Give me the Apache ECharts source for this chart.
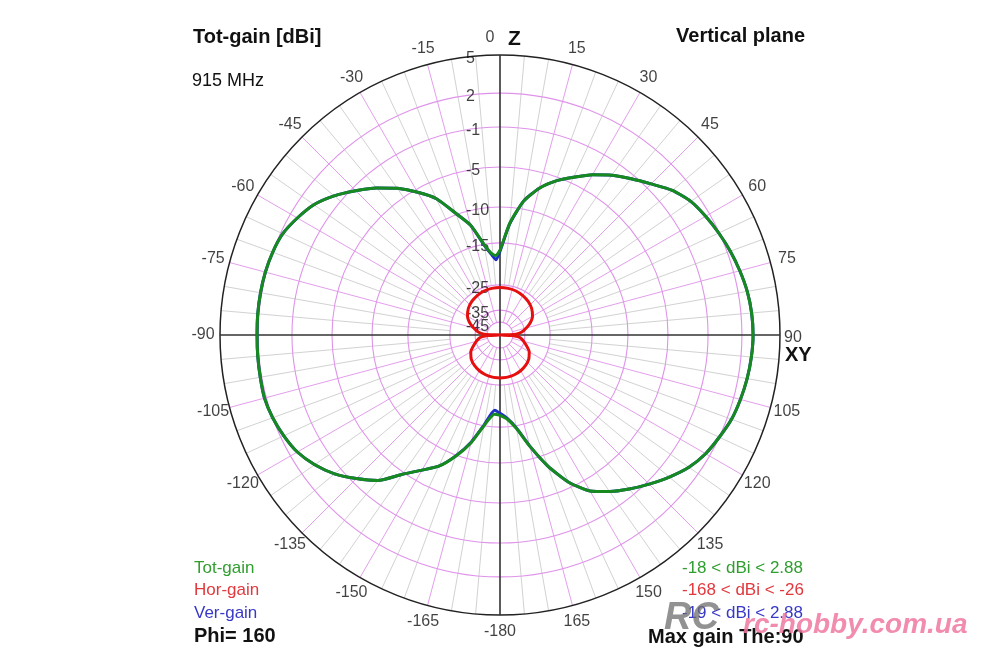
<!DOCTYPE html>
<html><head><meta charset="utf-8">
<script src="https://cdn.jsdelivr.net/npm/echarts@6/dist/echarts.min.js"></script>
<style>html,body{margin:0;padding:0;background:#fff}#c{width:1000px;height:667px}</style>
</head><body><div id="c"></div>
<script>
// ---- data (gain in dBi vs theta, degrees clockwise from Z) ----
const ringDb = [5, 2, -1, -5, -10, -15, -25, -35, -45];
const angleTicks = [0, 15, 30, 45, 60, 75, 90, 105, 120, 135, 150, 165, -180, -165, -150, -135, -120, -105, -90, -75, -60, -45, -30, -15];
const totTheta = [-180, -176, -170, -165, -160, -155, -150, -145, -140, -135, -130, -125, -120, -115, -110, -105, -100, -95, -90, -85, -80, -75, -70, -65, -60, -55, -50, -45, -40, -35, -30, -25, -20, -15, -10, -6, -3, 0, 5, 10, 15, 20, 25, 30, 35, 40, 45, 50, 55, 60, 65, 70, 75, 80, 85, 90, 95, 100, 105, 110, 115, 120, 125, 130, 135, 140, 145, 150, 155, 160, 165, 170, 175, 180];
const totGain = [-17.8, -18.0, -15.0, -12.3, -9.9, -7.9, -6.5, -4.8, -2.8, -1.5, -0.3, 0.6, 1.3, 1.7, 2.0, 2.15, 2.12, 2.1, 2.08, 2.1, 2.1, 2.08, 2.0, 1.8, 1.3, 0.7, -0.25, -1.4, -2.6, -3.9, -5.4, -7.2, -9.8, -12.0, -15.0, -17.4, -18.0, -16.7, -12.2, -9.0, -7.0, -5.5, -4.4, -3.3, -2.3, -1.4, -0.5, 0.5, 1.2, 1.6, 1.95, 2.25, 2.5, 2.72, 2.84, 2.88, 2.82, 2.71, 2.55, 2.35, 2.0, 1.6, 1.0, 0.15, -0.75, -1.7, -2.7, -3.8, -5.7, -8.6, -11.8, -14.6, -16.8, -17.8];
const verGain = [-18.3, -19.0, -15.2, -12.4, -9.95, -7.9, -6.5, -4.8, -2.8, -1.5, -0.3, 0.6, 1.3, 1.7, 2.0, 2.15, 2.12, 2.1, 2.08, 2.1, 2.1, 2.08, 2.0, 1.8, 1.3, 0.7, -0.25, -1.4, -2.6, -3.9, -5.4, -7.2, -9.8, -12.0, -15.2, -17.7, -19.0, -17.0, -12.3, -9.0, -7.0, -5.5, -4.4, -3.3, -2.3, -1.4, -0.5, 0.5, 1.2, 1.6, 1.95, 2.25, 2.5, 2.72, 2.84, 2.88, 2.82, 2.71, 2.55, 2.35, 2.0, 1.6, 1.0, 0.15, -0.75, -1.7, -2.7, -3.8, -5.7, -8.6, -11.8, -14.7, -17.0, -18.3];
const horTheta = [-180, -170, -160, -150, -140, -130, -120, -110, -100, -95, -92, -90, -88, -85, -80, -70, -60, -50, -40, -30, -20, -10, 0, 10, 20, 30, 40, 50, 60, 70, 80, 85, 88, 90, 92, 95, 100, 110, 120, 130, 140, 150, 160, 170, 180];
const horGain = [-27.8, -27.9, -28.1, -28.5, -29.1, -30.0, -31.5, -34.0, -37.5, -41, -46, -168, -45, -40, -36, -32.5, -30, -28.5, -27.5, -26.8, -26.3, -26.1, -26, -26.1, -26.3, -26.8, -27.5, -28.5, -30, -32.5, -36, -40, -45, -168, -46, -41, -37.5, -34.0, -31.5, -30.0, -29.1, -28.5, -28.1, -27.9, -27.8];

// ---- radial scale (log-like, 4nec2 style): dBi -> fraction of outer radius ----
function gainToRadius(db) {
  const bp = [[5, 1], [2, 0.864], [-1, 0.743], [-5, 0.6], [-10, 0.457], [-15, 0.329], [-25, 0.179], [-35, 0.089], [-45, 0.046], [-56, 0]];
  if (db >= bp[0][0]) return 1;
  for (let i = 1; i < bp.length; i++) {
    if (db >= bp[i][0]) {
      const [d0, r0] = bp[i - 1], [d1, r1] = bp[i];
      return r1 + (db - d1) * (r0 - r1) / (d0 - d1);
    }
  }
  return 0;
}
const ang = t => (t + 360) % 360;

const FONT = '"Liberation Sans", Arial, sans-serif';
const OUTER = 280, PR = 300;
const RMAX = PR / OUTER;

const spokeData = [];
for (let a = 0; a < 360; a += 5) if (a % 90 !== 0) spokeData.push([a % 15 === 0 ? gainToRadius(-45) : gainToRadius(-25), a]);

function ringRender(color, width) {
  return function (params, api) {
    const c = api.coord([0, 0]);
    const p = api.coord([api.value(0), 0]);
    const r = Math.hypot(p[0] - c[0], p[1] - c[1]);
    return { type: 'circle', shape: { cx: c[0], cy: c[1], r: r }, style: { fill: 'none', stroke: color, lineWidth: width } };
  };
}

const chart = echarts.init(document.getElementById('c'), null, { renderer: 'canvas' });
const option = {
  backgroundColor: '#ffffff',
  animation: false,
  polar: { center: [500, 335], radius: PR },
  radiusAxis: { type: 'value', min: 0, max: RMAX, show: false },
  angleAxis: { type: 'value', min: 0, max: 360, startAngle: 90, clockwise: true, show: false },
  series: [
    { // spokes
      type: 'custom', coordinateSystem: 'polar', silent: true, z: 1,
      data: spokeData,
      renderItem: function (params, api) {
        const a = api.value(1);
        const p0 = api.coord([api.value(0), a]);
        const p1 = api.coord([1, a]);
        const mag = Math.round(a) % 15 === 0;
        return { type: 'line', shape: { x1: p0[0], y1: p0[1], x2: p1[0], y2: p1[1] },
          style: { stroke: mag ? '#e39fec' : '#d2d2d2', lineWidth: 1 } };
      }
    },
    { // magenta rings
      type: 'custom', coordinateSystem: 'polar', silent: true, z: 2,
      data: ringDb.slice(1).map(d => [gainToRadius(d), 0]),
      renderItem: ringRender('#df93ea', 1.1)
    },
    { // outer ring
      type: 'custom', coordinateSystem: 'polar', silent: true, z: 3,
      data: [[gainToRadius(ringDb[0]), 0]],
      renderItem: ringRender('#222222', 1.5)
    },
    { // main axes Z and XY
      type: 'custom', coordinateSystem: 'polar', silent: true, z: 4,
      data: [[1, 0], [1, 90]],
      renderItem: function (params, api) {
        const a = api.value(1);
        const p0 = api.coord([1, a]);
        const p1 = api.coord([1, a + 180]);
        return { type: 'line', shape: { x1: p0[0], y1: p0[1], x2: p1[0], y2: p1[1] },
          style: { stroke: '#333333', lineWidth: 1.6 } };
      }
    },
    { // ring labels
      type: 'scatter', coordinateSystem: 'polar', silent: true, z: 5,
      symbolSize: 1, itemStyle: { color: 'rgba(0,0,0,0)' },
      data: ringDb.map(d => [gainToRadius(d), 0]),
      label: { show: true, position: 'inside', align: 'left', verticalAlign: 'middle', offset: [-34, 4],
        formatter: p => String(ringDb[p.dataIndex]), color: '#111', fontSize: 16, fontFamily: FONT }
    },
    { // angle labels
      type: 'scatter', coordinateSystem: 'polar', silent: true, z: 5,
      symbolSize: 1, itemStyle: { color: 'rgba(0,0,0,0)' },
      data: angleTicks.map(v => {
        const item = { value: [297 / OUTER, ang(v)] };
        if (v === 0) item.label = { offset: [-10, 0] };
        if (v === 90) item.label = { offset: [-4, 3] };
        return item;
      }),
      label: { show: true, position: 'inside', align: 'center', verticalAlign: 'middle',
        formatter: p => String(angleTicks[p.dataIndex]), color: '#111', fontSize: 16, fontFamily: FONT }
    },
    { name: 'Ver-gain', type: 'line', coordinateSystem: 'polar', silent: true, z: 6,
      symbol: 'none', smooth: 0.2, lineStyle: { color: '#1d2fc4', width: 3 },
      data: totTheta.map((t, i) => [gainToRadius(verGain[i]), ang(t)]) },
    { name: 'Tot-gain', type: 'line', coordinateSystem: 'polar', silent: true, z: 7,
      symbol: 'none', smooth: 0.2, lineStyle: { color: '#168a1e', width: 3 },
      data: totTheta.map((t, i) => [gainToRadius(totGain[i]), ang(t)]) },
    { name: 'Hor-gain', type: 'line', coordinateSystem: 'polar', silent: true, z: 7,
      symbol: 'none', smooth: 0.2, lineStyle: { color: '#e60f0f', width: 3 },
      data: horTheta.map((t, i) => [gainToRadius(horGain[i]), ang(t)]) }
  ],
  graphic: [
    { type: 'text', x: 193, y: 37, style: { text: 'Tot-gain [dBi]', font: 'bold 20px ' + FONT, fill: '#111', align: 'left', verticalAlign: 'middle' } },
    { type: 'text', x: 192, y: 81, style: { text: '915 MHz', font: '18px ' + FONT, fill: '#111', align: 'left', verticalAlign: 'middle' } },
    { type: 'text', x: 805, y: 36, style: { text: 'Vertical plane', font: 'bold 20px ' + FONT, fill: '#111', align: 'right', verticalAlign: 'middle' } },
    { type: 'text', x: 508, y: 39, style: { text: 'Z', font: 'bold 21px ' + FONT, fill: '#111', align: 'left', verticalAlign: 'middle' } },
    { type: 'text', x: 785, y: 355, style: { text: 'XY', font: 'bold 20px ' + FONT, fill: '#111', align: 'left', verticalAlign: 'middle' } },
    { type: 'text', x: 194, y: 568, style: { text: 'Tot-gain', font: '17px ' + FONT, fill: '#2f9e2f', align: 'left', verticalAlign: 'middle' } },
    { type: 'text', x: 194, y: 590, style: { text: 'Hor-gain', font: '17px ' + FONT, fill: '#e2383d', align: 'left', verticalAlign: 'middle' } },
    { type: 'text', x: 194, y: 613, style: { text: 'Ver-gain', font: '17px ' + FONT, fill: '#3838c8', align: 'left', verticalAlign: 'middle' } },
    { type: 'text', x: 194, y: 636, style: { text: 'Phi= 160', font: 'bold 20px ' + FONT, fill: '#111', align: 'left', verticalAlign: 'middle' } },
    { type: 'text', x: 682, y: 568, style: { text: '-18 < dBi < 2.88', font: '17px ' + FONT, fill: '#2f9e2f', align: 'left', verticalAlign: 'middle' } },
    { type: 'text', x: 682, y: 590, style: { text: '-168 < dBi < -26', font: '17px ' + FONT, fill: '#e2383d', align: 'left', verticalAlign: 'middle' } },
    { type: 'text', x: 682, y: 613, style: { text: '-19 < dBi < 2.88', font: '17px ' + FONT, fill: '#3838c8', align: 'left', verticalAlign: 'middle' } },
    { type: 'text', x: 648, y: 637, style: { text: 'Max gain The:90', font: 'bold 20px ' + FONT, fill: '#111', align: 'left', verticalAlign: 'middle' } },
    { type: 'text', x: 664, y: 619, z: 100, style: { text: 'RC', font: 'italic bold 38px ' + FONT, fill: 'rgba(110,110,110,0.75)', align: 'left', verticalAlign: 'middle' } },
    { type: 'text', x: 743, y: 625, z: 100, style: { text: 'rc-hobby.com.ua', font: 'italic bold 28px ' + FONT, fill: 'rgba(240,120,160,0.85)', align: 'left', verticalAlign: 'middle' } }
  ]
};
chart.setOption(option);
</script>
</body></html>
